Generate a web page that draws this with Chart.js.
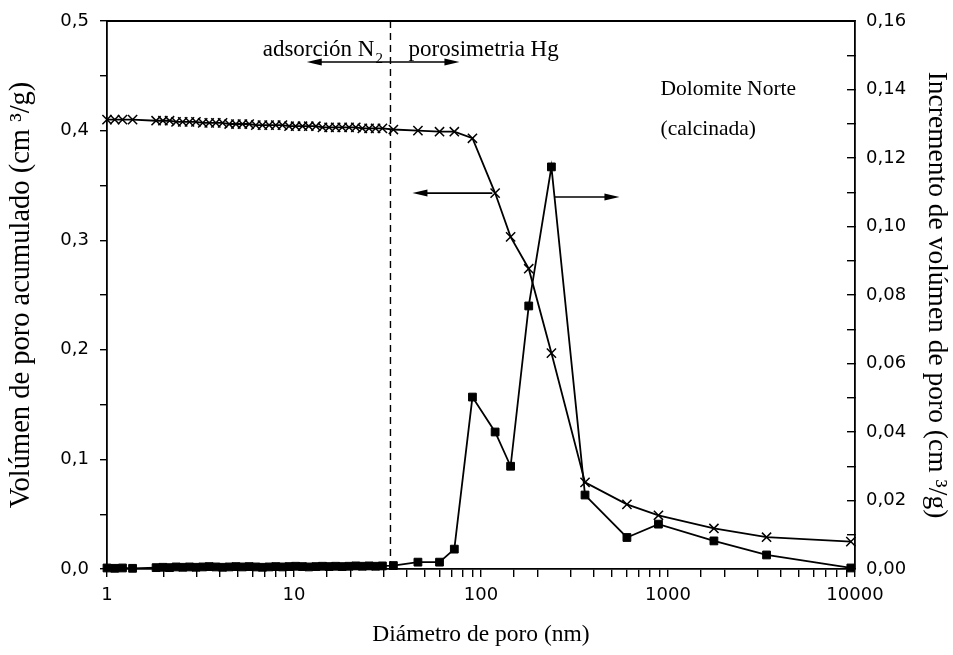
<!DOCTYPE html>
<html>
<head>
<meta charset="utf-8">
<script src="https://cdn.jsdelivr.net/npm/chart.js@4"></script>
<style>
html, body { margin: 0; padding: 0; background: #fff; }
</style>
</head>
<body>
<canvas id="poreChart" width="953" height="655"></canvas>
<script>
// diametro de poro (nm): adsorcion N2 y luego porosimetria Hg
var diametros = [
    1.0, 1.1, 1.21, 1.37,
    1.83, 1.99, 2.16, 2.34, 2.54, 2.76, 2.99, 3.25, 3.52, 3.82, 4.15, 4.50,
    4.89, 5.30, 5.76, 6.25, 6.78, 7.36, 7.99, 8.67, 9.41, 10.2, 11.1, 12.0,
    13.1, 14.2, 15.4, 16.7, 18.1, 19.7, 21.4, 23.2, 25.2, 27.3, 29.7,
    34, 46, 60, 72, 90, 119, 144, 180, 238, 360, 603, 889, 1760, 3365, 9500
];
var volAcumulado = [
    0.410, 0.410, 0.410, 0.410,
    0.409, 0.409, 0.409, 0.408, 0.408, 0.408, 0.408, 0.407, 0.407, 0.407, 0.407, 0.406,
    0.406, 0.406, 0.406, 0.405, 0.405, 0.405, 0.405, 0.405, 0.404, 0.404, 0.404, 0.404,
    0.404, 0.403, 0.403, 0.403, 0.403, 0.403, 0.403, 0.402, 0.402, 0.402, 0.402,
    0.401, 0.400, 0.399, 0.399, 0.393, 0.343, 0.303, 0.274, 0.197, 0.079, 0.059, 0.049, 0.037, 0.029, 0.025
];
var incVolumen = [
    0.0003, 0.0002, 0.0003, 0.0002,
    0.0004, 0.0005, 0.0004, 0.0006, 0.0005, 0.0006, 0.0005, 0.0006, 0.0007, 0.0006, 0.0005, 0.0006,
    0.0007, 0.0006, 0.0007, 0.0006, 0.0005, 0.0006, 0.0007, 0.0006, 0.0007, 0.0008, 0.0007, 0.0006,
    0.0007, 0.0008, 0.0007, 0.0008, 0.0007, 0.0008, 0.0009, 0.0008, 0.0009, 0.0008, 0.0009,
    0.0010, 0.0020, 0.0020, 0.0058, 0.0502, 0.0400, 0.0300, 0.0768, 0.1174, 0.0216, 0.0092, 0.0131, 0.0082, 0.0041, 0.0003
];
var ticksX = [1, 10, 100, 1000, 10000];

// anotaciones en coordenadas de datos
var limiteN2Hg = 32.8;

var serif = '"Liberation Serif", "Times New Roman", serif';
var sans = '"DejaVu Sans", Arial, sans-serif';

function flecha(ctx, x1, y1, x2, y2) {
    var ang = Math.atan2(y2 - y1, x2 - x1);
    var len = 15, half = 3.5;
    ctx.beginPath();
    ctx.moveTo(x1, y1);
    ctx.lineTo(x2 - Math.cos(ang) * len * 0.8, y2 - Math.sin(ang) * len * 0.8);
    ctx.stroke();
    ctx.beginPath();
    ctx.moveTo(x2, y2);
    ctx.lineTo(x2 - Math.cos(ang) * len - Math.sin(ang) * half, y2 - Math.sin(ang) * len + Math.cos(ang) * half);
    ctx.lineTo(x2 - Math.cos(ang) * len + Math.sin(ang) * half, y2 - Math.sin(ang) * len - Math.cos(ang) * half);
    ctx.closePath();
    ctx.fill();
}

var anotaciones = {
    id: 'anotaciones',
    afterDatasetsDraw: function(chart) {
        var ctx = chart.ctx, a = chart.chartArea;
        var x = chart.scales.x, y = chart.scales.y;
        ctx.save();
        ctx.strokeStyle = '#000';
        ctx.fillStyle = '#000';

        // marco superior
        ctx.lineWidth = 1.8;
        ctx.beginPath();
        ctx.moveTo(a.left, a.top);
        ctx.lineTo(a.right, a.top);
        ctx.stroke();

        // linea discontinua N2 / Hg
        var xs = x.getPixelForValue(limiteN2Hg);
        ctx.lineWidth = 1.4;
        ctx.setLineDash([7, 5]);
        ctx.beginPath();
        ctx.moveTo(xs, a.top);
        ctx.lineTo(xs, a.bottom);
        ctx.stroke();
        ctx.setLineDash([]);

        // flechas
        ctx.lineWidth = 1.7;
        var yf = y.getPixelForValue(0.4626);
        flecha(ctx, xs, yf, x.getPixelForValue(11.7), yf);
        flecha(ctx, xs, yf, x.getPixelForValue(76.7), yf);
        var y2 = y.getPixelForValue(0.343);
        flecha(ctx, x.getPixelForValue(115), y2, x.getPixelForValue(43), y2);
        var y3 = y.getPixelForValue(0.3394);
        flecha(ctx, x.getPixelForValue(247), y3, x.getPixelForValue(550), y3);

        // textos
        ctx.textBaseline = 'alphabetic';
        var yt = y.getPixelForValue(0.468);
        ctx.font = '15px ' + serif;
        ctx.textAlign = 'left';
        ctx.fillText('2', xs - 15, yt + 7);
        ctx.font = '23px ' + serif;
        ctx.textAlign = 'right';
        ctx.fillText('adsorción N', xs - 16, yt);
        ctx.textAlign = 'left';
        ctx.fillText('porosimetria Hg', x.getPixelForValue(41), yt);
        ctx.font = '21.5px ' + serif;
        ctx.fillText('Dolomite Norte', x.getPixelForValue(912), y.getPixelForValue(0.4325));
        ctx.fillText('(calcinada)', x.getPixelForValue(912), y.getPixelForValue(0.396));
        ctx.restore();
    }
};

function sinRelleno(s) {
    s.paddingTop = 0;
    s.paddingBottom = 0;
}

var ctx = document.getElementById('poreChart').getContext('2d');

var myChart = new Chart(ctx, {
    type: 'line',
    data: {
        datasets: [{
            label: 'Volumen acumulado',
            data: diametros.map(function(d, i) { return {x: d, y: volAcumulado[i]}; }),
            yAxisID: 'y',
            borderColor: '#000',
            backgroundColor: '#000',
            borderWidth: 1.8,
            pointStyle: 'crossRot',
            pointRadius: 6.5,
            pointBorderWidth: 1.5,
            pointBorderColor: '#000',
            clip: false
        }, {
            label: 'Incremento de volumen',
            data: diametros.map(function(d, i) { return {x: d, y: incVolumen[i]}; }),
            yAxisID: 'y1',
            borderColor: '#000',
            backgroundColor: '#000',
            borderWidth: 1.8,
            pointStyle: 'rect',
            pointRadius: 5.5,
            pointBorderWidth: 1,
            pointBorderColor: '#000',
            pointBackgroundColor: '#000',
            clip: false
        }]
    },
    options: {
        responsive: false,
        animation: false,
        devicePixelRatio: 1,
        layout: { padding: { top: 21, left: 0, right: 0, bottom: 0 } },
        plugins: {
            legend: { display: false },
            tooltip: { enabled: false }
        },
        scales: {
            x: {
                type: 'logarithmic',
                position: 'bottom',
                min: 1,
                max: 10000,
                afterFit: function(s) { s.height = 86; s.paddingLeft = 0; s.paddingRight = 0; },
                border: { color: '#000', width: 1.8 },
                grid: { drawOnChartArea: false, drawTicks: true, tickLength: 8, color: '#000', lineWidth: 1.4 },
                ticks: {
                    color: '#000',
                    font: { family: sans, size: 18 },
                    padding: 8,
                    autoSkip: false,
                    maxRotation: 0,
                    callback: function(v) {
                        return ticksX.indexOf(Math.round(v)) >= 0 && Math.abs(v - Math.round(v)) < 1e-6 ? String(Math.round(v)) : '';
                    }
                },
                title: {
                    display: true,
                    text: 'Diámetro de poro (nm)',
                    color: '#000',
                    font: { family: serif, size: 23.5 },
                    padding: { top: 0, bottom: 6 }
                }
            },
            y: {
                position: 'left',
                min: 0,
                max: 0.5,
                afterFit: function(s) { s.width = 107; sinRelleno(s); },
                border: { color: '#000', width: 1.8 },
                grid: { drawOnChartArea: false, drawTicks: true, tickLength: 7, color: '#000', lineWidth: 1.4 },
                ticks: {
                    stepSize: 0.05,
                    color: '#000',
                    font: { family: sans, size: 18 },
                    padding: 11,
                    callback: function(v) {
                        var c = Math.round(v * 100);
                        return c % 10 === 0 ? (c / 100).toFixed(1).replace('.', ',') : '';
                    }
                },
                title: {
                    display: true,
                    text: 'Volúmen de poro acumulado (cm ³/g)',
                    color: '#000',
                    font: { family: serif, size: 28.5 },
                    padding: { top: 4, bottom: 0 }
                }
            },
            y1: {
                position: 'right',
                min: 0,
                max: 0.16,
                afterFit: function(s) { s.width = 98; sinRelleno(s); },
                border: { color: '#000', width: 1.8 },
                grid: { drawOnChartArea: false, drawTicks: true, tickLength: -8, color: '#000', lineWidth: 1.4 },
                ticks: {
                    stepSize: 0.01,
                    color: '#000',
                    font: { family: sans, size: 18 },
                    padding: 19,
                    callback: function(v) {
                        var c = Math.round(v * 100);
                        return c % 2 === 0 ? (c / 100).toFixed(2).replace('.', ',') : '';
                    }
                },
                title: {
                    display: true,
                    text: 'Incremento de volúmen de poro (cm ³/g)',
                    color: '#000',
                    font: { family: serif, size: 27.5 },
                    padding: { top: 0, bottom: 0 }
                }
            }
        }
    },
    plugins: [anotaciones]
});
</script>
</body>
</html>
